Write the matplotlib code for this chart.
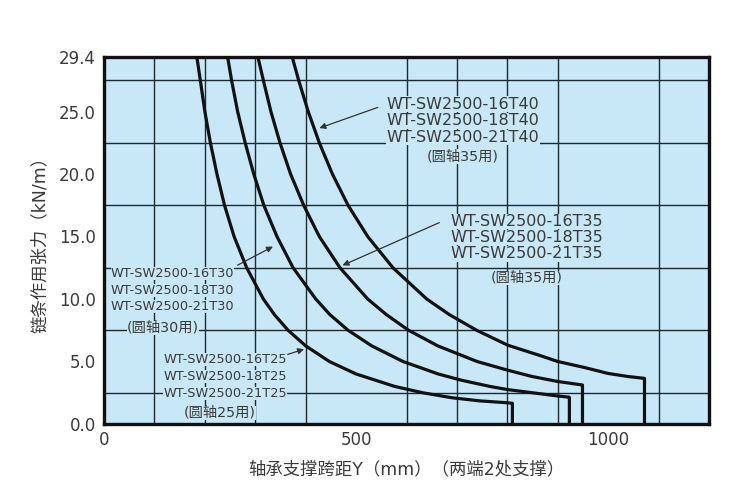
import numpy as np
import matplotlib.pyplot as plt

plt.rcParams['font.family'] = ['DejaVu Sans', 'Noto Sans CJK SC']

# span Y (mm) vs chain tension (kN/m)
t25_x = [184, 191, 200, 211, 224, 239, 258, 283, 316, 338, 365, 400, 447, 500, 577, 632, 690, 745, 799, 810, 810]
t25_y = [29.4, 27.5, 25.0, 22.5, 20.0, 17.5, 15.0, 12.5, 10.0, 8.75, 7.5, 6.25, 5.0, 4.0, 3.0, 2.5, 2.1, 1.85, 1.7, 1.66, 0.0]

t30_x = [245, 253, 265, 280, 297, 317, 343, 375, 420, 448, 484, 531, 593, 663, 709, 766, 801, 900, 923, 923]
t30_y = [29.4, 27.5, 25.0, 22.5, 20.0, 17.5, 15.0, 12.5, 10.0, 8.75, 7.5, 6.25, 5.0, 4.0, 3.5, 3.0, 2.75, 2.24, 2.14, 0.0]

t35_x = [305, 316, 331, 349, 370, 396, 427, 468, 523, 560, 604, 662, 740, 801, 849, 900, 949, 949]
t35_y = [29.4, 27.5, 25.0, 22.5, 20.0, 17.5, 15.0, 12.5, 10.0, 8.75, 7.5, 6.25, 5.0, 4.3, 3.8, 3.4, 3.12, 0.0]

t40_x = [373, 386, 405, 427, 453, 484, 523, 573, 640, 685, 739, 801, 863, 900, 955, 999, 1039, 1072, 1072]
t40_y = [29.4, 27.5, 25.0, 22.5, 20.0, 17.5, 15.0, 12.5, 10.0, 8.75, 7.5, 6.3, 5.5, 5.0, 4.5, 4.05, 3.8, 3.65, 0.0]

y_ticks = [0, 5, 10, 15, 20, 25, 29.4]
y_labels = ['0.0', '5.0', '10.0', '15.0', '20.0', '25.0', '29.4']
x_ticks = [0, 500, 1000]

lab40 = ['WT-SW2500-16T40', 'WT-SW2500-18T40', 'WT-SW2500-21T40', '(圆轴35用)']
lab35 = ['WT-SW2500-16T35', 'WT-SW2500-18T35', 'WT-SW2500-21T35', '(圆轴35用)']
lab30 = ['WT-SW2500-16T30', 'WT-SW2500-18T30', 'WT-SW2500-21T30', '(圆轴30用)']
lab25 = ['WT-SW2500-16T25', 'WT-SW2500-18T25', 'WT-SW2500-21T25', '(圆轴25用)']

bg = '#c8e7f7'
txt = '#3a3a3a'

fig = plt.figure(figsize=(7.33, 4.97), dpi=100)
ax = fig.add_axes([0.1419, 0.1469, 0.8254, 0.7394])
ax.set_facecolor(bg)

ax.set_xlim(0, 1200)
ax.set_ylim(0, 29.4)

ax.set_xticks(np.arange(0, 1201, 100), minor=True)
ax.set_yticks(list(np.arange(0, 29.4, 2.5)) + [29.4], minor=True)
ax.grid(which='minor', color='#1e2a30', linewidth=1.0, zorder=1)
ax.set_axisbelow(True)

ax.set_xticks(x_ticks)
ax.set_xticklabels([str(v) for v in x_ticks])
ax.set_yticks(y_ticks)
ax.set_yticklabels(y_labels)
ax.tick_params(which='both', length=0, labelsize=12, colors=txt)
ax.tick_params(axis='y', pad=6)
ax.tick_params(axis='x', pad=5)

for s in ax.spines.values():
    s.set_linewidth(2.4)
    s.set_color('#111111')

for xs, ys in [(t25_x, t25_y), (t30_x, t30_y), (t35_x, t35_y), (t40_x, t40_y)]:
    ax.plot(xs, ys, color='#111111', linewidth=2.3, zorder=4,
            solid_joinstyle='round', solid_capstyle='butt')

box = dict(facecolor=bg, edgecolor='none', pad=0.1)


def block(lines, cx, ys, size, cn_x=None):
    for i, s in enumerate(lines):
        last = i == len(lines) - 1
        ax.text(cn_x if (last and cn_x is not None) else cx, ys[i], s,
                ha='center', va='center', color=txt,
                fontsize=10.3 if last else size, bbox=box, zorder=3)


block(lab40, 712, [25.6, 24.25, 22.9, 21.4], 11.5)
block(lab35, 839, [16.2, 14.9, 13.6, 11.7], 11.5)
block(lab30, 136, [12.06, 10.7, 9.38, 7.7], 9.3, cn_x=117)
block(lab25, 240, [5.17, 3.8, 2.45, 0.9], 9.3, cn_x=230)

arr = dict(arrowstyle='-|>', color='#333333', lw=0.9, mutation_scale=9)
ax.annotate('', xy=(422, 23.6), xytext=(548, 25.4), arrowprops=arr, zorder=5)
ax.annotate('', xy=(468, 12.6), xytext=(670, 16.2), arrowprops=arr, zorder=5)
ax.annotate('', xy=(340, 14.3), xytext=(260, 12.6), arrowprops=arr, zorder=5)
ax.annotate('', xy=(402, 6.05), xytext=(359, 5.5), arrowprops=arr, zorder=5)

ax.set_xlabel('轴承支撑跨距Y（mm）（两端2处支撑）', fontsize=12.5, color=txt, labelpad=8)
ax.set_ylabel('链条作用张力（kN/m）', fontsize=12.5, color=txt, labelpad=7)

fig.savefig('out.png', dpi=100)
